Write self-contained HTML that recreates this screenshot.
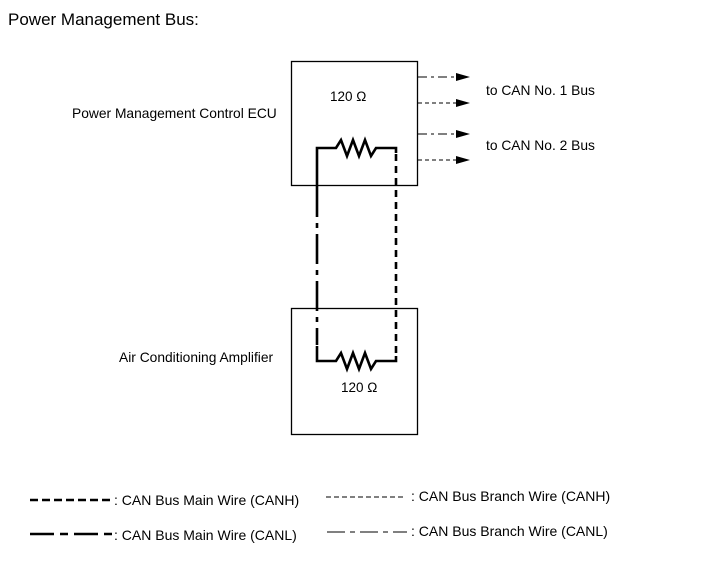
<!DOCTYPE html>
<html><head><style>
body{margin:0;background:#fff;}
svg{display:block;font-family:"Liberation Sans",Arial,sans-serif;}
</style></head><body>
<svg width="713" height="581" viewBox="0 0 713 581" xmlns="http://www.w3.org/2000/svg">
<rect width="713" height="581" fill="#fff"/>
<text x="8" y="25" font-size="17" fill="#000">Power Management Bus:</text>
<rect x="291.5" y="61.5" width="126" height="124" fill="none" stroke="#000" stroke-width="1.3"/>
<rect x="291.5" y="308.5" width="126" height="126" fill="none" stroke="#000" stroke-width="1.3"/>
<text x="330" y="101" font-size="13.5">120 Ω</text>
<text x="341" y="392" font-size="13.5">120 Ω</text>
<text x="72" y="118" font-size="13.8">Power Management Control ECU</text>
<text x="119" y="362" font-size="13.8">Air Conditioning Amplifier</text>
<text x="486" y="95" font-size="13.8">to CAN No. 1 Bus</text>
<text x="486" y="150" font-size="13.8">to CAN No. 2 Bus</text>
<g fill="none" stroke="#000" stroke-width="2.6">
<polyline points="317,187 317,148 336,148 341,140 347,156 353,140 359,156 365,140 371,156 376,148 396,148 396,153"/>
<polyline points="317,346 317,361 336,361 341,353 347,369 353,353 359,369 365,353 371,369 376,361 396,361 396,356"/>
<line x1="317" y1="187" x2="317" y2="345" stroke-dasharray="30,6,5,6"/>
<line x1="396" y1="154" x2="396" y2="356" stroke-dasharray="7,5"/>
</g>
<g stroke="#000" stroke-width="1.1" fill="none">
<line x1="418" y1="77" x2="456" y2="77" stroke-dasharray="9,4,3,4"/>
<line x1="418" y1="103" x2="456" y2="103" stroke-dasharray="4,3"/>
<line x1="418" y1="134" x2="456" y2="134" stroke-dasharray="9,4,3,4"/>
<line x1="418" y1="160" x2="456" y2="160" stroke-dasharray="4,3"/>
</g>
<g fill="#000">
<polygon points="456,73 470,77 456,81"/>
<polygon points="456,99 470,103 456,107"/>
<polygon points="456,130 470,134 456,138"/>
<polygon points="456,156 470,160 456,164"/>
</g>
<line x1="30" y1="500" x2="114" y2="500" stroke="#000" stroke-width="2.6" stroke-dasharray="8,4"/>
<line x1="30" y1="534" x2="112" y2="534" stroke="#000" stroke-width="2.6" stroke-dasharray="24,6,8,6"/>
<line x1="326" y1="497" x2="406" y2="497" stroke="#000" stroke-width="1" stroke-dasharray="5,3"/>
<line x1="327" y1="532" x2="407" y2="532" stroke="#000" stroke-width="1" stroke-dasharray="18,5,5,5"/>
<text x="114" y="505" font-size="14">: CAN Bus Main Wire (CANH)</text>
<text x="114" y="540" font-size="14">: CAN Bus Main Wire (CANL)</text>
<text x="411" y="501" font-size="14">: CAN Bus Branch Wire (CANH)</text>
<text x="411" y="536" font-size="14">: CAN Bus Branch Wire (CANL)</text>
</svg>
</body></html>
